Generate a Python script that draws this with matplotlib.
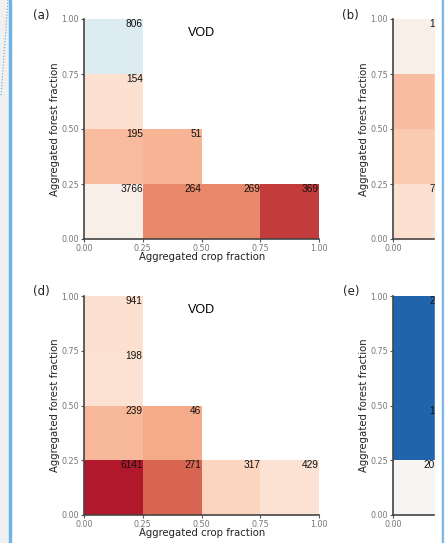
import numpy as np
import matplotlib
matplotlib.use("Agg")
import matplotlib.pyplot as plt
from matplotlib.patches import Rectangle
from matplotlib.lines import Line2D

# bin edges shared by all panels
edges = [0.0, 0.25, 0.5, 0.75, 1.0]
tick_labels = ["0.00", "0.25", "0.50", "0.75", "1.00"]

# panel (a): crop bin index, forest bin index, colour value, pixel count
a_crop = [0, 0, 0, 1, 0, 1, 2, 3]
a_forest = [3, 2, 1, 1, 0, 0, 0, 0]
a_value = [0.43, 0.58, 0.66, 0.67, 0.53, 0.74, 0.74, 0.85]
a_count = [806, 154, 195, 51, 3766, 264, 269, 369]

# panel (b), only first column is visible
b_crop = [0, 0, 0, 0]
b_forest = [3, 2, 1, 0]
b_value = [0.53, 0.655, 0.63, 0.58]
b_count = [1342, 412, 603, 7431]

# panel (d)
d_crop = [0, 0, 0, 1, 0, 1, 2, 3]
d_forest = [3, 2, 1, 1, 0, 0, 0, 0]
d_value = [0.58, 0.575, 0.665, 0.69, 0.90, 0.79, 0.61, 0.575]
d_count = [941, 198, 239, 46, 6141, 271, 317, 429]

# panel (e), only first column is visible
e_crop = [0, 0, 0, 0]
e_forest = [3, 2, 1, 0]
e_value = [0.10, 0.10, 0.10, 0.51]
e_count = [2416, 93, 1275, 20318]

W, H = 445, 543
fig = plt.figure(figsize=(W / 100, H / 100), dpi=100)
fig.patch.set_facecolor("white")


def fx(px):
    return px / W


def fy(py):
    return 1 - py / H


def draw_panel(left, top, bottom, crop, forest, value, count, letter, title,
               lab_x, cut=False):
    ax = fig.add_axes([fx(left), fy(bottom), fx(235), (bottom - top) / H])
    grid = np.full((4, 4), np.nan)
    for c, f, v in zip(crop, forest, value):
        grid[f, c] = v
    ax.pcolormesh(edges, edges, np.ma.masked_invalid(grid), cmap="RdBu_r",
                  vmin=0, vmax=1, shading="flat")
    for c, f, n in zip(crop, forest, count):
        ax.text(edges[c + 1], edges[f + 1], str(n), ha="right", va="top",
                fontsize=7.3, family="Liberation Sans", color="#111111")
    ax.set_xlim(0, 1)
    ax.set_ylim(0, 1)
    ax.set_yticks(edges)
    ax.set_yticklabels(tick_labels)
    if cut:
        # the page crops these panels just after the first column
        ax.set_xticks(edges[:1])
        ax.set_xticklabels(tick_labels[:1])
    else:
        ax.set_xticks(edges)
        ax.set_xticklabels(tick_labels)
    ax.tick_params(direction="out", length=2.5, width=0.8, color="#555555",
                   labelsize=5.8, labelcolor="#777777", pad=1)
    for s in ["top", "right"]:
        ax.spines[s].set_visible(False)
    for s in ["left", "bottom"]:
        ax.spines[s].set_color("#444444")
        ax.spines[s].set_linewidth(1.2)
    if title:
        ax.text(0.5, 0.935, title, transform=ax.transAxes, ha="center",
                va="center", fontsize=9, family="Liberation Sans")
    fig.text(fx(lab_x), fy(top - 4), letter, ha="left", va="center",
             fontsize=8.5, color="#222222")
    fig.text(fx(left - 29), fy((top + bottom) / 2), "Aggregated forest fraction",
             rotation=90, ha="center", va="center", fontsize=7.3, color="#222222")
    if not cut:
        fig.text(fx(left + 118), fy(bottom + 18), "Aggregated crop fraction",
                 ha="center", va="center", fontsize=7.3, color="#222222")
    return ax


draw_panel(84, 19, 239, a_crop, a_forest, a_value, a_count, "(a)", "VOD", 33)
draw_panel(393, 19, 239, b_crop, b_forest, b_value, b_count, "(b)", None, 342,
           cut=True)
draw_panel(84, 296, 515, d_crop, d_forest, d_value, d_count, "(d)", "VOD", 33)
draw_panel(393, 296, 515, e_crop, e_forest, e_value, e_count, "(e)", None, 343,
           cut=True)

# page frame around the cropped figure
fig.add_artist(Rectangle((0, 0), fx(9), 1, transform=fig.transFigure,
                         color="#f0f0f0", zorder=10))
fig.add_artist(Rectangle((fx(9), 0), fx(2), 1, transform=fig.transFigure,
                         color="#6db3ea", zorder=10))
fig.add_artist(Line2D([fx(8), fx(1)], [fy(0), fy(97)], transform=fig.transFigure,
                      color="#5aa6e0", lw=0.8, ls=":", zorder=11))
fig.add_artist(Rectangle((fx(435), 0), fx(7), 1, transform=fig.transFigure,
                         color="white", zorder=10))
fig.add_artist(Rectangle((fx(442), 0), fx(2), 1, transform=fig.transFigure,
                         color="#6db3ea", zorder=10))
fig.add_artist(Rectangle((fx(444), 0), fx(1), 1, transform=fig.transFigure,
                         color="#f0f0f0", zorder=10))

fig.savefig("out.png", dpi=100)
